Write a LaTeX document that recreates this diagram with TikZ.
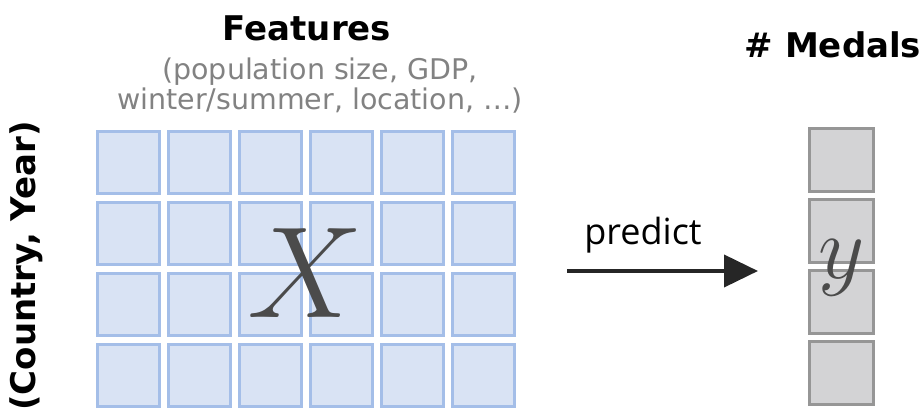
\documentclass[tikz,border=0pt]{standalone}
\usepackage{fix-cm}
\usepackage{fontspec}
\setmainfont{DejaVu Sans}
\newfontfamily\predfont{Open Sans}
\usetikzlibrary{arrows.meta}
\definecolor{cellfill}{RGB}{217,227,244}
\definecolor{celldraw}{RGB}{164,190,232}
\definecolor{yfill}{RGB}{211,211,213}
\definecolor{ydraw}{RGB}{150,150,150}
\definecolor{subgray}{RGB}{130,130,130}
\definecolor{mathgray}{RGB}{75,75,75}
\begin{document}
\begin{tikzpicture}[x=1pt,y=-1pt,
  xcell/.style={draw=celldraw,fill=cellfill,line width=3pt,minimum width=62pt,minimum height=62pt,inner sep=0pt},
  ycell/.style={draw=ydraw,fill=yfill,line width=3pt,minimum width=64pt,minimum height=63pt,inner sep=0pt},
  title/.style={font=\fontsize{34}{38}\selectfont\bfseries,inner sep=0pt},
]
\useasboundingbox (0,0) rectangle (921,419);
% X grid
\foreach \i in {0,...,5}{
  \foreach \j in {0,...,3}{
    \node[xcell] (c-\i-\j) at (96+32.5+71*\i,130+32.5+71*\j) {};
  }
}
\node[text=mathgray,inner sep=0pt,font=\fontsize{130}{130}\selectfont] (X) at (305,273) {$X$};
% y column
\foreach \j/\t in {0/127,1/198,2/269,3/340}{
  \node[ycell] (y-\j) at (841.5,\t+33) {};
}
\node[text=mathgray,inner sep=0pt,font=\fontsize{90}{90}\selectfont] (Y) at (842,268) {$y$};
% titles
\node[title] (feat) at (307,28) {Features};
\node[text=subgray,font=\fontsize{28.5}{30}\selectfont,align=center,inner sep=0pt] (sub) at (320,86) {(population size, GDP,\\winter/summer, location, …)};
\node[title] (medals) at (833,45) {\# Medals};
\node[title,rotate=90] (cy) at (26,266) {(Country, Year)};
% arrow
\coordinate (a1) at (567,271);
\coordinate (a2) at (758,271);
\draw[line width=4pt,draw=black!85,-{Triangle[length=34pt,width=32pt]}] (a1) -- (a2);
\node[font=\predfont\fontsize{36}{38}\selectfont,inner sep=0pt] (pred) at (643,235) {predict};
\end{tikzpicture}
\end{document}
